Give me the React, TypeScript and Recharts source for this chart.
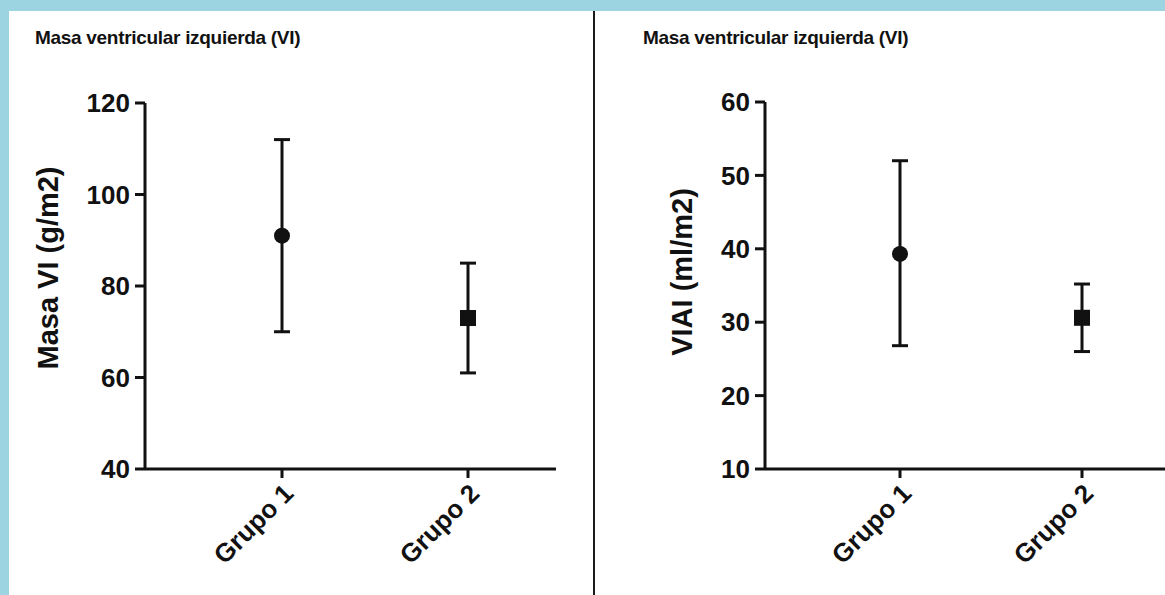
import { ComposedChart, Line, XAxis, YAxis, ErrorBar } from 'recharts'

const groups = ['Grupo 1', 'Grupo 2']

// Masa VI (g/m2): media con rango
const masaMean = [91, 73]
const masaLow = [70, 61]
const masaHigh = [112, 85]
const masaTicks = [40, 60, 80, 100, 120]

// VIAI (ml/m2)
const viaiMean = [39.3, 30.6]
const viaiLow = [26.8, 26]
const viaiHigh = [52, 35.2]
const viaiTicks = [10, 20, 30, 40, 50, 60]

const TITLE = 'Masa ventricular izquierda (VI)'
const INK = '#111'
const FONT = '"Liberation Sans", Arial, sans-serif'

const buildData = (mean: number[], low: number[], high: number[]) =>
  groups.map((name, i) => ({
    name,
    mean: mean[i],
    err: [mean[i] - low[i], high[i] - mean[i]],
  }))

const renderMarker = (props: any) => {
  const { cx, cy, index } = props
  if (cx == null || cy == null) return <g key={`m-${index}`} />
  if (index === 0) {
    return <circle key={`m-${index}`} cx={cx} cy={cy} r={8} fill={INK} />
  }
  return <rect key={`m-${index}`} x={cx - 8} y={cy - 8} width={16} height={16} fill={INK} />
}

interface PanelProps {
  data: any[]
  ticks: number[]
  yLabel: string
  width: number
  marginLeft: number
  marginRight: number
  top: number
  padLeft: number
  padRight: number
  labelX: number
  labelY: number
}

function Panel({ data, ticks, yLabel, width, marginLeft, marginRight, top, padLeft, padRight, labelX, labelY }: PanelProps) {
  return (
    <ComposedChart
      width={width}
      height={595}
      data={data}
      margin={{ top, right: marginRight, bottom: 0, left: marginLeft }}
      style={{ fontFamily: FONT }}
    >
      <XAxis
        dataKey="name"
        type="category"
        padding={{ left: padLeft, right: padRight }}
        height={595 - 469}
        axisLine={{ stroke: INK, strokeWidth: 3 }}
        tickLine={{ stroke: INK, strokeWidth: 3 }}
        tickSize={9}
        tickMargin={4}
        interval={0}
        angle={-45}
        textAnchor="end"
        tick={{ fill: INK, fontSize: 26, fontWeight: 700 }}
      />
      <YAxis
        type="number"
        domain={[ticks[0], ticks[ticks.length - 1]]}
        ticks={ticks}
        interval={0}
        width={80}
        axisLine={{ stroke: INK, strokeWidth: 3 }}
        tickLine={{ stroke: INK, strokeWidth: 3 }}
        tickSize={10}
        tickMargin={5}
        tick={{ fill: INK, fontSize: 26, fontWeight: 700 }}
        label={{
          content: () => (
            <text
              x={labelX}
              y={labelY}
              transform={`rotate(-90 ${labelX} ${labelY})`}
              textAnchor="middle"
              dominantBaseline="central"
              fill={INK}
              fontSize={29}
              fontWeight={700}
              fontFamily={FONT}
            >
              {yLabel}
            </text>
          ),
        }}
      />
      <Line
        dataKey="mean"
        stroke="none"
        dot={renderMarker}
        activeDot={false}
        legendType="none"
        isAnimationActive={false}
      >
        <ErrorBar dataKey="err" width={8} stroke={INK} strokeWidth={3} direction="y" />
      </Line>
    </ComposedChart>
  )
}

export default function App() {
  const masaData = buildData(masaMean, masaLow, masaHigh)
  const viaiData = buildData(viaiMean, viaiLow, viaiHigh)

  const titleStyle: React.CSSProperties = {
    position: 'absolute',
    top: 28,
    fontFamily: FONT,
    fontWeight: 700,
    fontSize: 19,
    letterSpacing: -0.3,
    lineHeight: '19px',
    color: INK,
    whiteSpace: 'nowrap',
  }

  return (
    <div
      style={{
        position: 'fixed',
        left: 0,
        top: 0,
        width: 1165,
        height: 595,
        overflow: 'hidden',
        background: '#9cd5e1',
      }}
    >
      <div style={{ position: 'absolute', left: 9, top: 11, right: 0, bottom: 0, background: '#fff' }} />
      <div style={{ position: 'absolute', left: 593, top: 11, width: 2, bottom: 0, background: '#1a1a1a' }} />

      <div style={{ ...titleStyle, left: 35 }}>{TITLE}</div>
      <div style={{ ...titleStyle, left: 643 }}>{TITLE}</div>

      <div style={{ position: 'absolute', left: 0, top: 0 }}>
        <Panel
          data={masaData}
          ticks={masaTicks}
          yLabel="Masa VI (g/m2)"
          width={592}
          marginLeft={65}
          marginRight={36}
          top={103}
          padLeft={137}
          padRight={88}
          labelX={48}
          labelY={268}
        />
      </div>
      <div style={{ position: 'absolute', left: 596, top: 0 }}>
        <Panel
          data={viaiData}
          ticks={viaiTicks}
          yLabel="VIAI (ml/m2)"
          width={600}
          marginLeft={89}
          marginRight={0}
          top={102}
          padLeft={135}
          padRight={114}
          labelX={86}
          labelY={272}
        />
      </div>
    </div>
  )
}
